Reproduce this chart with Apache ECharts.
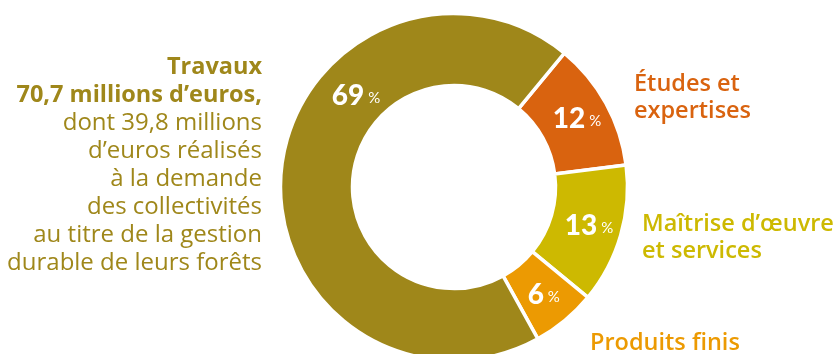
<!DOCTYPE html>
<html>
<head>
<meta charset="utf-8">
<script src="https://cdn.jsdelivr.net/npm/echarts@6/dist/echarts.min.js"></script>
<style>
  html, body { margin: 0; padding: 0; background: #fff; }
  #chart { width: 838px; height: 354px; }
</style>
</head>
<body>
<div id="chart"></div>
<script>
// Répartition du chiffre d'affaires par activité (en %)
const categories = ['Études et expertises', 'Maîtrise d’œuvre et services', 'Produits finis', 'Travaux'];
const shares = [12, 13, 6, 69];
const colors = ['#d9630f', '#cdb901', '#ec9a02', '#9f871a'];

// Légendes disposées autour de l'anneau
const travauxBold = ['Travaux', '70,7 millions d’euros,'];
const travauxText = ['dont 39,8 millions', 'd’euros réalisés', 'à la demande', 'des collectivités', 'au titre de la gestion', 'durable de leurs forêts'];
const etudesLines = ['Études et', 'expertises'];
const maitriseLines = ['Maîtrise d’œuvre', 'et services'];
const produitsLines = ['Produits finis'];

const FONT = '"Open Sans", Lato, sans-serif';
const NUMFONT = 'Lato, sans-serif';
const CX = 454, CY = 187, R0 = 101.5, R1 = 173.5;

const chart = echarts.init(document.getElementById('chart'), null, { renderer: 'canvas' });

function textLines(lines, x, y0, lh, color, weight, size, align) {
  return lines.map((t, i) => ({
    type: 'text',
    x: x, y: y0 + i * lh,
    style: {
      text: t, fill: color, font: weight + ' ' + size + 'px ' + FONT,
      textAlign: align, textVerticalAlign: 'middle'
    }
  }));
}

const graphics = []
  .concat(textLines(travauxBold, 262, 67, 28, colors[3], 'bold', 23.5, 'right'))
  .concat(textLines(travauxText, 262, 123, 28, colors[3], 'normal', 24, 'right'))
  .concat(textLines(etudesLines, 634, 84, 27, colors[0], 600, 23.5, 'left'))
  .concat(textLines(maitriseLines, 642, 224, 27, colors[1], 600, 23.5, 'left'))
  .concat(textLines(produitsLines, 590, 343, 27, colors[2], 600, 23.5, 'left'));

chart.setOption({
  animation: false,
  graphic: graphics,
  series: [{
    type: 'pie',
    center: [CX, CY],
    radius: [R0, R1],
    startAngle: 50.5,
    clockwise: true,
    avoidLabelOverlap: false,
    itemStyle: { borderColor: '#ffffff', borderWidth: 3.5 },
    label: {
      show: true,
      position: 'inside',
      formatter: '{n|{c}}{p| %}',
      rich: {
        n: { color: '#fff', fontFamily: NUMFONT, fontWeight: 900, fontSize: 28 },
        p: { color: '#fff', fontFamily: NUMFONT, fontWeight: 'normal', fontSize: 15, padding: [5, 0, 0, 0] }
      }
    },
    labelLine: { show: false },
    emphasis: { disabled: true },
    labelLayout: function (params) {
      // l'étiquette de Travaux se place dans la partie haute gauche de l'anneau
      if (params.dataIndex === 3) {
        const a = 313 * Math.PI / 180, r = 134;
        return { x: CX + r * Math.sin(a), y: CY - r * Math.cos(a) };
      }
    },
    data: categories.map((c, i) => ({ name: c, value: shares[i], itemStyle: { color: colors[i] } }))
  }]
});
</script>
</body>
</html>
